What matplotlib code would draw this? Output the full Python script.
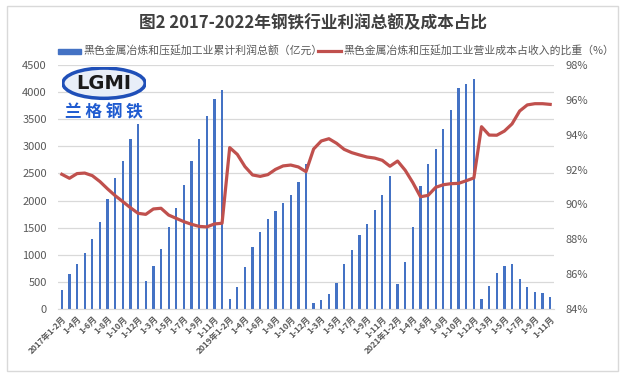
import matplotlib.pyplot as plt
import numpy as np
from matplotlib.patches import Ellipse, Rectangle

plt.rcParams['font.family'] = ['Noto Sans CJK SC', 'DejaVu Sans']

# === 数据 ===
profit_2017 = [350, 646, 830, 1039, 1292, 1611, 2030, 2411, 2731, 3130, 3419]
profit_2018 = [517, 787, 1107, 1513, 1870, 2294, 2725, 3130, 3555, 3868, 4034]
profit_2019 = [185, 400, 769, 1144, 1427, 1660, 1814, 1962, 2109, 2343, 2675]
profit_2020 = [111, 160, 283, 480, 824, 1095, 1365, 1568, 1827, 2109, 2460]
profit_2021 = [461, 861, 1513, 2269, 2669, 2952, 3327, 3665, 4071, 4151, 4237]
profit_2022 = [189, 415, 659, 799, 823, 561, 409, 305, 299, 226]

ratio_2017 = [91.73, 91.50, 91.77, 91.80, 91.65, 91.31, 90.89, 90.50, 90.16, 89.81, 89.49]
ratio_2018 = [89.43, 89.74, 89.78, 89.39, 89.20, 89.01, 88.86, 88.74, 88.71, 88.88, 88.92]
ratio_2019 = [93.26, 92.87, 92.17, 91.69, 91.61, 91.71, 92.01, 92.21, 92.26, 92.15, 91.88]
ratio_2020 = [93.18, 93.64, 93.77, 93.51, 93.16, 92.97, 92.84, 92.72, 92.66, 92.53, 92.19]
ratio_2021 = [92.49, 91.96, 91.25, 90.44, 90.52, 90.98, 91.13, 91.19, 91.21, 91.36, 91.52]
ratio_2022 = [94.46, 93.98, 93.97, 94.21, 94.62, 95.36, 95.71, 95.78, 95.78, 95.74]

months = ['1-2月', '1-3月', '1-4月', '1-5月', '1-6月', '1-7月', '1-8月',
          '1-9月', '1-10月', '1-11月', '1-12月']
categories = (['2017年' + m if i == 0 else m for i, m in enumerate(months)] +
              months +
              ['2019年' + m if i == 0 else m for i, m in enumerate(months)] +
              months +
              ['2021年' + m if i == 0 else m for i, m in enumerate(months)] +
              months[:10])

profit = profit_2017 + profit_2018 + profit_2019 + profit_2020 + profit_2021 + profit_2022
ratio = ratio_2017 + ratio_2018 + ratio_2019 + ratio_2020 + ratio_2021 + ratio_2022

TITULO = '图2 2017-2022年钢铁行业利润总额及成本占比'
LEG_BAR = '黑色金属冶炼和压延加工业累计利润总额（亿元）'
LEG_LINE = '黑色金属冶炼和压延加工业营业成本占收入的比重（%）'

AZUL = '#4472C4'
VERMELHO = '#C0504D'
CINZA = '#595959'

W, H = 625, 377
fig = plt.figure(figsize=(W / 100, H / 100), dpi=100)

# moldura
fig.add_artist(Rectangle((7 / W, 1 - 371 / H), 611 / W, 365 / H,
                         transform=fig.transFigure, fill=False,
                         edgecolor='#D9D9D9', lw=1))

ax = fig.add_axes([58 / W, 1 - 309 / H, 496 / W, 244 / H])
x = np.arange(len(categories))
ax.bar(x, profit, width=0.3, color=AZUL, zorder=2)
ax.set_xlim(-0.5, len(categories) - 0.5)
ax.set_ylim(0, 4500)
ax.set_yticks(np.arange(0, 4501, 500))
ax.grid(axis='y', color='#D9D9D9', lw=0.9, zorder=0)
ax.set_axisbelow(True)
for s in ['top', 'left', 'right']:
    ax.spines[s].set_visible(False)
ax.spines['bottom'].set_color('#D9D9D9')
ax.tick_params(axis='y', length=0, pad=8, labelsize=8, labelcolor=CINZA)
ax.set_xticks(x[::2])
ax.set_xticklabels(categories[::2], rotation=45, ha='right',
                   rotation_mode='anchor', fontsize=6, fontweight='bold',
                   color=CINZA)
ax.tick_params(axis='x', length=0, pad=4)

ax2 = ax.twinx()
ax2.plot(x, ratio, color=VERMELHO, lw=2.3, zorder=3)
ax2.set_ylim(84, 98)
ax2.set_yticks(np.arange(84, 98.1, 2))
ax2.set_yticklabels([f'{v:.0f}%' for v in np.arange(84, 98.1, 2)])
for s in ['top', 'left', 'right', 'bottom']:
    ax2.spines[s].set_visible(False)
ax2.tick_params(axis='y', length=0, pad=8, labelsize=8, labelcolor=CINZA)

# título e legenda
fig.text(313 / W, 1 - 23 / H, TITULO, ha='center', va='center',
         fontsize=12, fontweight='bold', color='#404040')
fig.add_artist(Rectangle((58 / W, 1 - 54 / H), 23 / W, 5 / H,
                         transform=fig.transFigure, color=AZUL))
fig.text(83 / W, 1 - 51 / H, LEG_BAR, ha='left', va='center',
         fontsize=7.8, color=CINZA)
fig.add_artist(plt.Line2D([318 / W, 341 / W], [1 - 51 / H, 1 - 51 / H],
                          transform=fig.transFigure, color=VERMELHO, lw=2.3))
fig.text(343 / W, 1 - 51 / H, LEG_LINE, ha='left', va='center',
         fontsize=7.8, color=CINZA)

# logo
logo = fig.add_axes([62 / W, 1 - 121 / H, 84 / W, 54 / H])
logo.set_xlim(0, 1)
logo.set_ylim(0, 1)
logo.axis('off')
logo.add_patch(Ellipse((0.5, 0.7), 0.98, 0.56, facecolor='#E8EEF8',
                       edgecolor='#1F4FB8', lw=2.5))
logo.text(0.5, 0.7, 'LGMI', ha='center', va='center', fontsize=14,
          fontweight='bold', color='#1A1A1A', family='DejaVu Sans')
logo.text(0.5, 0.16, '兰 格 钢 铁', ha='center', va='center', fontsize=12,
          fontweight='bold', color='#1F5BD0')

fig.savefig('out.png', dpi=100)
